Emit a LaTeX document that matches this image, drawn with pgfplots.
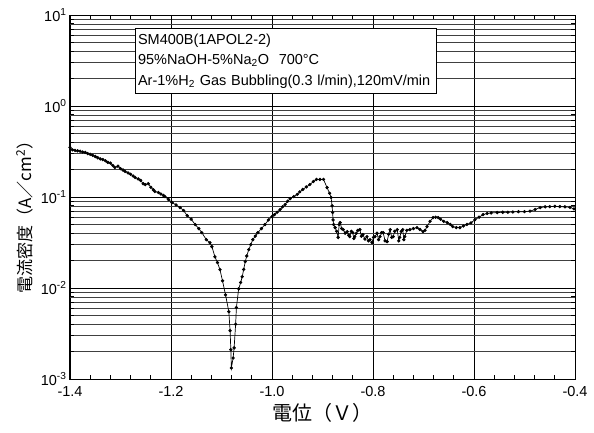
\documentclass[border=0pt]{standalone}
\usepackage{fontspec}
\setmainfont{Liberation Sans}
\newfontfamily\jp{Noto Sans CJK JP}
\usepackage{pgfplots}
\pgfplotsset{compat=1.18}

\begin{document}
\begin{tikzpicture}
\useasboundingbox (-70pt,-53pt) rectangle (524pt,379pt);
\begin{axis}[
  at={(0,0)}, anchor=south west,
  scale only axis, width=505pt, height=364pt,
  ymode=log, xmin=-1.4, xmax=-0.4, ymin=1e-3, ymax=10,
  xtick={-1.4,-1.2,-1.0,-0.8,-0.6,-0.4},
  xticklabels={-1.4,-1.2,-1.0,-0.8,-0.6,-0.4},
  minor x tick num=4,
  ytick={1e-3,1e-2,1e-1,1,10},
  yticklabels={10\textsuperscript{-3},10\textsuperscript{-2},10\textsuperscript{-1},10\textsuperscript{0},10\textsuperscript{1}},
  xmajorgrids, ymajorgrids, yminorgrids,
  major grid style={black, line width=0.6pt},
  minor grid style={black!75, line width=0.6pt},
  tick style={black, line width=0.8pt},
  major tick length=5pt, minor tick length=4pt,
  axis line style={line width=1pt},
  ticklabel style={font=\fontsize{14.5}{16}\selectfont},
  xticklabel style={yshift=-4pt},
  xlabel={\jp 電位（Ｖ）},
  xlabel style={font=\fontsize{20}{22}\selectfont, at={(axis description cs:0.5,-0.093)}, anchor=center},
  ylabel={\jp 電流密度（A／cm\textsuperscript{2}）},
  ylabel style={font=\fontsize{17}{19}\selectfont, at={(axis description cs:-0.09,0.456)}, anchor=center},
]
\addplot[black, line width=0.7pt, mark=*, mark size=1.3pt] coordinates {
(-1.400,0.351) (-1.395,0.330) (-1.390,0.325) (-1.385,0.322) (-1.380,0.318)
(-1.375,0.312) (-1.370,0.309) (-1.365,0.300) (-1.360,0.295) (-1.355,0.287)
(-1.350,0.279) (-1.345,0.270) (-1.340,0.262) (-1.335,0.258) (-1.330,0.250)
(-1.325,0.240) (-1.320,0.236) (-1.315,0.222) (-1.311,0.211) (-1.305,0.218)
(-1.300,0.205) (-1.295,0.198) (-1.291,0.191) (-1.285,0.184) (-1.280,0.178)
(-1.275,0.170) (-1.271,0.164) (-1.265,0.158) (-1.260,0.152) (-1.255,0.140)
(-1.251,0.137) (-1.245,0.140) (-1.240,0.128) (-1.235,0.120) (-1.232,0.115)
(-1.225,0.112) (-1.220,0.108) (-1.215,0.104) (-1.212,0.101) (-1.205,0.094)
(-1.198,0.087) (-1.190,0.082) (-1.182,0.0766) (-1.175,0.071) (-1.168,0.0625)
(-1.160,0.057) (-1.152,0.0498) (-1.145,0.045) (-1.139,0.0406) (-1.130,0.034)
(-1.123,0.0315) (-1.119,0.0285) (-1.113,0.022) (-1.108,0.019) (-1.103,0.0159)
(-1.098,0.012) (-1.092,0.0084) (-1.0855,0.0055) (-1.083,0.0034) (-1.0815,0.0021)
(-1.0805,0.00132) (-1.077,0.0017) (-1.075,0.0022) (-1.072,0.0040) (-1.0705,0.0061)
(-1.066,0.0098) (-1.062,0.0115) (-1.059,0.0133) (-1.056,0.0160) (-1.053,0.0195)
(-1.050,0.0225) (-1.046,0.0264) (-1.042,0.0300) (-1.038,0.0340) (-1.033,0.0372)
(-1.028,0.0406) (-1.021,0.0450) (-1.014,0.0498) (-1.007,0.0560) (-1.000,0.0610)
(-0.995,0.0640) (-0.990,0.0680) (-0.984,0.0728) (-0.979,0.0780) (-0.974,0.0827)
(-0.969,0.0900) (-0.964,0.0962) (-0.957,0.1010) (-0.950,0.1070) (-0.945,0.1140)
(-0.939,0.1210) (-0.932,0.1290) (-0.925,0.1370) (-0.918,0.1480) (-0.912,0.1560)
(-0.905,0.1560) (-0.898,0.1560) (-0.891,0.1270) (-0.886,0.1100) (-0.883,0.0987)
(-0.881,0.0800) (-0.880,0.0675) (-0.879,0.0560) (-0.878,0.0498)
(-0.875,0.0461) (-0.872,0.0420) (-0.869,0.0360) (-0.867,0.0500) (-0.865,0.0524)
(-0.862,0.0450) (-0.859,0.0438) (-0.855,0.0400) (-0.851,0.0417) (-0.848,0.0380)
(-0.846,0.0367) (-0.843,0.0420) (-0.840,0.0406) (-0.838,0.0350) (-0.836,0.0367)
(-0.833,0.0400) (-0.830,0.0430) (-0.826,0.0438) (-0.823,0.0370) (-0.820,0.0386)
(-0.816,0.0345) (-0.812,0.0367) (-0.809,0.0330) (-0.806,0.0340) (-0.802,0.0315)
(-0.799,0.0360) (-0.796,0.0367) (-0.792,0.0400) (-0.789,0.0340) (-0.786,0.0367)
(-0.783,0.0406) (-0.780,0.0406) (-0.776,0.0330) (-0.772,0.0323) (-0.769,0.0390)
(-0.766,0.0438) (-0.763,0.0360) (-0.760,0.0367) (-0.757,0.0420) (-0.752,0.0438)
(-0.749,0.0330) (-0.747,0.0360) (-0.744,0.0420) (-0.741,0.0438) (-0.739,0.0340)
(-0.737,0.0367) (-0.733,0.0430) (-0.727,0.0438) (-0.720,0.0450) (-0.713,0.0461)
(-0.707,0.0440) (-0.701,0.0417) (-0.697,0.0430) (-0.693,0.0473) (-0.687,0.0540)
(-0.681,0.0594) (-0.676,0.0600) (-0.671,0.0594) (-0.666,0.0570) (-0.660,0.0540)
(-0.653,0.0524) (-0.647,0.0500) (-0.642,0.0473) (-0.635,0.0461) (-0.628,0.0461)
(-0.621,0.0480) (-0.614,0.0500) (-0.606,0.0520) (-0.598,0.0565) (-0.590,0.0600)
(-0.582,0.0641) (-0.574,0.0660) (-0.566,0.0668) (-0.554,0.0675) (-0.543,0.0680)
(-0.533,0.0680) (-0.523,0.0685) (-0.512,0.0690) (-0.500,0.0690) (-0.489,0.0700)
(-0.479,0.0730) (-0.469,0.0766) (-0.459,0.0780) (-0.450,0.0785) (-0.440,0.0790)
(-0.430,0.0785) (-0.420,0.0780) (-0.410,0.0770) (-0.402,0.0740)
};
\node[draw, line width=0.8pt, fill=white, anchor=north west, inner xsep=2.5pt, inner ysep=5pt,
  text width=296pt, align=left, font=\fontsize{14.5}{20.5}\selectfont]
  at (rel axis cs:0.129,0.964)
  {SM400B(1APOL2-2)\\95\%NaOH-5\%Na\textsubscript{2}O\ \ 700°C\\Ar-1\%H\textsubscript{2} Gas Bubbling(0.3 l/min),120mV/min};
\end{axis}
\end{tikzpicture}
\end{document}
